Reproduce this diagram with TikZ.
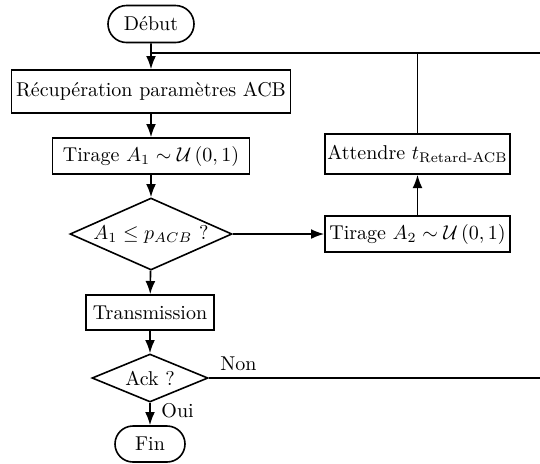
\documentclass[tikz,border=0pt]{standalone}
\usepackage{amsmath}
\usetikzlibrary{shapes.geometric,shapes.misc,arrows.meta}

\begin{document}
\begin{tikzpicture}[x=0.5pt,y=-0.5pt,thick,
                    boite/.style={draw,rectangle,inner sep=0pt},
                    decision/.style={draw,diamond,inner sep=0pt},
                    terminal/.style={draw,rounded rectangle,inner sep=0pt},
                    fleche/.style={-{Latex}}]
  \useasboundingbox (0,0) rectangle (540,463);

  % colonne principale
  \node (debut)[terminal,minimum width=43pt,minimum height=18.5pt] at (151,24) {D\'ebut};
  \node (recup)[boite,minimum width=139.5pt,minimum height=21.5pt] at (151,91.5) {R\'ecup\'eration param\`etres ACB};
  \node (tirage1)[boite,minimum width=98.5pt,minimum height=18pt] at (151,156) {Tirage $A_1 \sim \mathcal{U}\left(0,1\right)$};
  \node (test)[decision,aspect=2.25,minimum width=81pt,minimum height=36pt] at (151,234) {$A_1 \leq p_{ACB}$ ?};
  \node (transmission)[boite,minimum width=64pt,minimum height=17.5pt] at (150,312.5) {Transmission};
  \node (ack)[decision,aspect=2.4,minimum width=58pt,minimum height=24pt] at (150,378) {Ack ?};
  \node (fin)[terminal,minimum width=35pt,minimum height=18pt] at (150,444) {Fin};

  % colonne de droite
  \node (tirage2)[boite,minimum width=92.5pt,minimum height=18pt] at (417.5,234) {Tirage $A_2 \sim \mathcal{U}\left(0,1\right)$};
  \node (attendre)[boite,minimum width=92.5pt,minimum height=20pt] at (417.5,154) {Attendre $t_{\text{Retard-ACB}}$};

  \coordinate (bord) at (544,53);

  \draw[fleche] (debut) -- (recup);
  \draw[fleche] (recup) -- (tirage1);
  \draw[fleche] (tirage1) -- (test);
  \draw[fleche] (test) -- (transmission);
  \draw[fleche] (transmission) -- (ack);
  \draw[fleche] (ack) -- node[right,pos=0.35,xshift=2pt]{Oui} (fin);
  \draw[fleche] (test.east) -- (tirage2.west);
  \draw[fleche] (tirage2) -- (attendre);

  % retour vers le debut
  \draw (attendre.north) -- (attendre.north |- bord);
  \draw (ack.east) node[above right,xshift=2pt]{Non} -- (ack.east -| bord) -- (bord) -- (debut.south |- bord);
\end{tikzpicture}
\end{document}
